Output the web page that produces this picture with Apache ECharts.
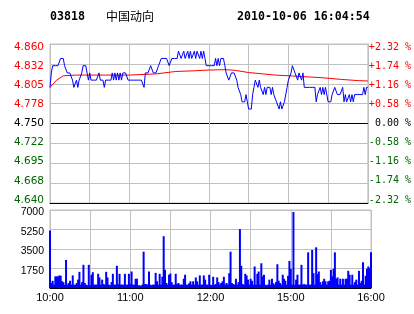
<!DOCTYPE html>
<html><head><meta charset="utf-8">
<script src="https://cdn.jsdelivr.net/npm/echarts@6/dist/echarts.min.js"></script>
<style>html,body{margin:0;padding:0;background:#fff}#c{width:414px;height:314px}</style>
</head><body><div id="c"></div>
<script>
const stockCode = '03818';
const stockName = '中国动向';
const timestamp = '2010-10-06 16:04:54';
const timeTickMinutes = [0, 60, 120, 180, 240];
const timeTickLabels = ['10:00', '11:00', '12:00', '15:00', '16:00'];
const priceTickLabels = ['4.640','4.668','4.695','4.722','4.750','4.778','4.805','4.832','4.860'];
const pctTickLabels = ['-2.32 %','-1.74 %','-1.16 %','-0.58 %',' 0.00 %','+0.58 %','+1.16 %','+1.74 %','+2.32 %'];
const volTickLabels = ['', '1750', '3500', '5250', '7000'];

// one price per minute of the trading session (10:00-12:00 ... 14:30-16:00)
const prices = [
4.80,4.82,4.83,4.83,4.83,4.83,4.83,4.83,4.84,4.84,
4.84,4.83,4.83,4.82,4.82,4.82,4.82,4.81,4.80,4.80,
4.81,4.80,4.81,4.81,4.82,4.83,4.83,4.83,4.82,4.81,
4.82,4.81,4.81,4.81,4.81,4.81,4.81,4.82,4.81,4.81,
4.81,4.80,4.81,4.81,4.81,4.81,4.81,4.82,4.81,4.82,
4.81,4.82,4.81,4.82,4.81,4.82,4.82,4.82,4.82,4.81,
4.81,4.81,4.81,4.81,4.81,4.81,4.81,4.81,4.81,4.81,
4.81,4.80,4.82,4.82,4.82,4.82,4.83,4.83,4.82,4.82,
4.82,4.82,4.83,4.83,4.84,4.84,4.84,4.84,4.84,4.84,
4.83,4.83,4.84,4.84,4.84,4.84,4.84,4.85,4.85,4.84,
4.84,4.85,4.84,4.84,4.85,4.84,4.85,4.84,4.84,4.85,
4.84,4.85,4.85,4.84,4.85,4.84,4.85,4.84,4.83,4.83,
4.83,4.83,4.83,4.83,4.83,4.84,4.83,4.84,4.83,4.84,
4.84,4.84,4.83,4.82,4.82,4.81,4.81,4.82,4.82,4.82,
4.82,4.81,4.80,4.80,4.79,4.78,4.78,4.78,4.79,4.78,
4.77,4.77,4.77,4.79,4.80,4.81,4.81,4.80,4.81,4.80,
4.80,4.79,4.80,4.79,4.80,4.80,4.80,4.79,4.80,4.79,
4.79,4.78,4.78,4.77,4.78,4.77,4.77,4.78,4.78,4.80,
4.81,4.81,4.82,4.83,4.83,4.82,4.82,4.81,4.82,4.82,
4.81,4.82,4.80,4.80,4.80,4.80,4.80,4.80,4.80,4.80,
4.80,4.78,4.79,4.79,4.80,4.79,4.80,4.79,4.80,4.80,
4.78,4.78,4.78,4.79,4.79,4.80,4.80,4.79,4.79,4.79,
4.79,4.80,4.78,4.79,4.78,4.78,4.79,4.78,4.79,4.78,
4.79,4.79,4.79,4.79,4.79,4.79,4.79,4.80,4.79,4.80,
4.80
];

const volumes = [
5150,450,650,300,1040,1040,1040,1130,1100,600,
530,300,2520,300,450,650,300,1130,300,300,
450,750,1450,300,530,2080,450,300,250,2080,
250,1190,1420,300,300,300,1275,950,300,750,
350,300,1450,950,300,250,530,1275,300,300,
1990,350,1275,300,300,300,1275,300,300,1275,
350,1480,300,300,830,830,250,250,180,300,
3260,350,350,300,1480,300,250,300,300,1360,
600,300,1275,300,1010,4650,1630,450,300,1190,
1300,530,300,300,1275,350,450,300,300,300,
830,1190,300,300,420,600,300,600,300,950,
600,300,1130,300,300,1130,750,300,300,1190,
300,250,1010,300,350,950,530,300,450,600,
1010,300,450,300,1330,3260,450,350,300,830,
300,530,5280,1990,350,300,1275,1130,750,300,
830,650,300,1930,300,1275,1480,300,2220,1040,
1190,300,250,300,750,300,830,420,300,530,
2130,650,450,300,1190,830,650,300,1100,2430,
1720,300,6820,300,750,1190,300,300,2080,300,
350,300,300,3200,300,300,3410,1330,300,3650,
1250,1480,530,300,600,830,600,300,600,650,
1630,1040,1720,3200,830,950,300,830,300,830,
300,830,830,1540,1190,300,1190,300,530,750,
300,1540,450,650,2310,300,1100,1720,1930,1780,
3200
];

const avgMinutes = [0,5,10,20,40,60,80,95,110,120,133,140,150,161,170,183,190,205,220,233,240];
const avgPrices = [4.800,4.810,4.816,4.817,4.817,4.817,4.8186,4.822,4.823,4.824,4.8245,4.8235,4.8205,4.8186,4.817,4.8158,4.815,4.8134,4.811,4.8093,4.8088];

const GRAY = '#c0c0c0';
const RED = '#ff0000';
const GREEN = '#006400';

function tickColor(i) { return i > 4 ? RED : (i === 4 ? '#000' : GREEN); }
// labels sit slightly towards the middle of the price panel
function buildRich(fontFamily, fontSize) {
  const rich = {};
  for (let i = 0; i < 9; i++) {
    const s = -3 + 0.75 * i; // positive = move down
    rich['p' + i] = {
      color: tickColor(i), fontFamily: fontFamily, fontSize: fontSize,
      padding: s >= 0 ? [2 * s, 0, 0, 0] : [0, 0, -2 * s, 0]
    };
  }
  return rich;
}

const chart = echarts.init(document.getElementById('c'), null, {renderer: 'canvas'});
chart.setOption({
  animation: false,
  backgroundColor: '#fff',
  graphic: [
    {type: 'text', x: 50, y: 17, style: {text: stockCode, font: 'bold 11.6px "DejaVu Sans Mono"', fill: '#000', verticalAlign: 'middle'}},
    {type: 'text', x: 106, y: 16, style: {text: stockName, font: '12px "Noto Sans CJK SC"', fill: '#000', verticalAlign: 'middle'}},
    {type: 'text', x: 237, y: 17, style: {text: timestamp, font: 'bold 11.6px "DejaVu Sans Mono"', fill: '#000', verticalAlign: 'middle'}}
  ],
  grid: [
    {left: 50, top: 44, width: 321, height: 159, show: true, borderColor: GRAY, borderWidth: 1},
    {left: 50, top: 210, width: 321, height: 78, show: true, borderColor: GRAY, borderWidth: 1}
  ],
  xAxis: [
    {type: 'value', gridIndex: 0, min: 0, max: 240, interval: 30,
     axisLine: {show: true, onZero: false, lineStyle: {color: '#000', width: 1}},
     axisTick: {show: false}, axisLabel: {show: false},
     splitLine: {show: true, lineStyle: {color: GRAY, width: 1}}},
    {type: 'value', gridIndex: 1, min: 0, max: 240, interval: 30,
     axisLine: {show: true, onZero: false, lineStyle: {color: '#000', width: 1}},
     axisTick: {show: false},
     axisLabel: {show: true, margin: 4, color: '#000', fontSize: 11, fontFamily: 'Liberation Sans',
       showMinLabel: true, showMaxLabel: true,
       formatter: function (v) { const k = timeTickMinutes.indexOf(Math.round(v)); return k >= 0 ? timeTickLabels[k] : ''; }},
     splitLine: {show: true, lineStyle: {color: GRAY, width: 1}}}
  ],
  yAxis: [
    {type: 'value', gridIndex: 0, position: 'left', min: 4.64, max: 4.86, interval: 0.0275,
     axisLine: {show: true, lineStyle: {color: GRAY}}, axisTick: {show: false},
     axisLabel: {show: true, margin: 6, fontSize: 10.5, fontFamily: 'DejaVu Sans',
       formatter: function (v, i) { return '{p' + i + '|' + priceTickLabels[i] + '}'; },
       rich: buildRich('DejaVu Sans', 10.5)},
     splitLine: {show: true, lineStyle: {color: ['#000', GRAY, GRAY, GRAY, '#000', GRAY, GRAY, GRAY, GRAY], width: 1}}},
    {type: 'value', gridIndex: 0, position: 'right', min: 4.64, max: 4.86, interval: 0.0275,
     axisLine: {show: true, lineStyle: {color: GRAY}}, axisTick: {show: false},
     axisLabel: {show: true, margin: 1, fontSize: 10, fontFamily: 'DejaVu Sans Mono',
       formatter: function (v, i) { return '{p' + i + '|' + pctTickLabels[i] + '}'; },
       rich: buildRich('DejaVu Sans Mono', 10)},
     splitLine: {show: false}},
    {type: 'value', gridIndex: 1, position: 'left', min: 0, max: 7000, interval: 1750,
     axisLine: {show: true, lineStyle: {color: GRAY}}, axisTick: {show: false},
     axisLabel: {show: true, margin: 6, fontSize: 10.5, fontFamily: 'Liberation Sans',
       formatter: function (v, i) { return volTickLabels[i] ? '{v|' + volTickLabels[i] + '}' : ''; },
       rich: {v: {color: '#000', fontSize: 10.5, fontFamily: 'Liberation Sans', padding: [5, 0, 0, 0]}}},
     splitLine: {show: true, lineStyle: {color: GRAY, width: 1}}}
  ],
  series: [
    {type: 'line', name: 'avg', xAxisIndex: 0, yAxisIndex: 0, showSymbol: false, symbol: 'none',
     data: avgMinutes.map(function (m, k) { return [m, avgPrices[k]]; }),
     lineStyle: {color: RED, width: 1}, z: 3},
    {type: 'line', name: 'price', xAxisIndex: 0, yAxisIndex: 0, showSymbol: false, symbol: 'none',
     data: prices.map(function (p, i) { return [i, p]; }),
     lineStyle: {color: '#0000ff', width: 1}, z: 4},
    {type: 'bar', name: 'volume', xAxisIndex: 1, yAxisIndex: 2, barWidth: 2,
     data: volumes.map(function (v, i) { return [i, v]; }),
     itemStyle: {color: '#0000ff'}}
  ]
});
</script></body></html>
